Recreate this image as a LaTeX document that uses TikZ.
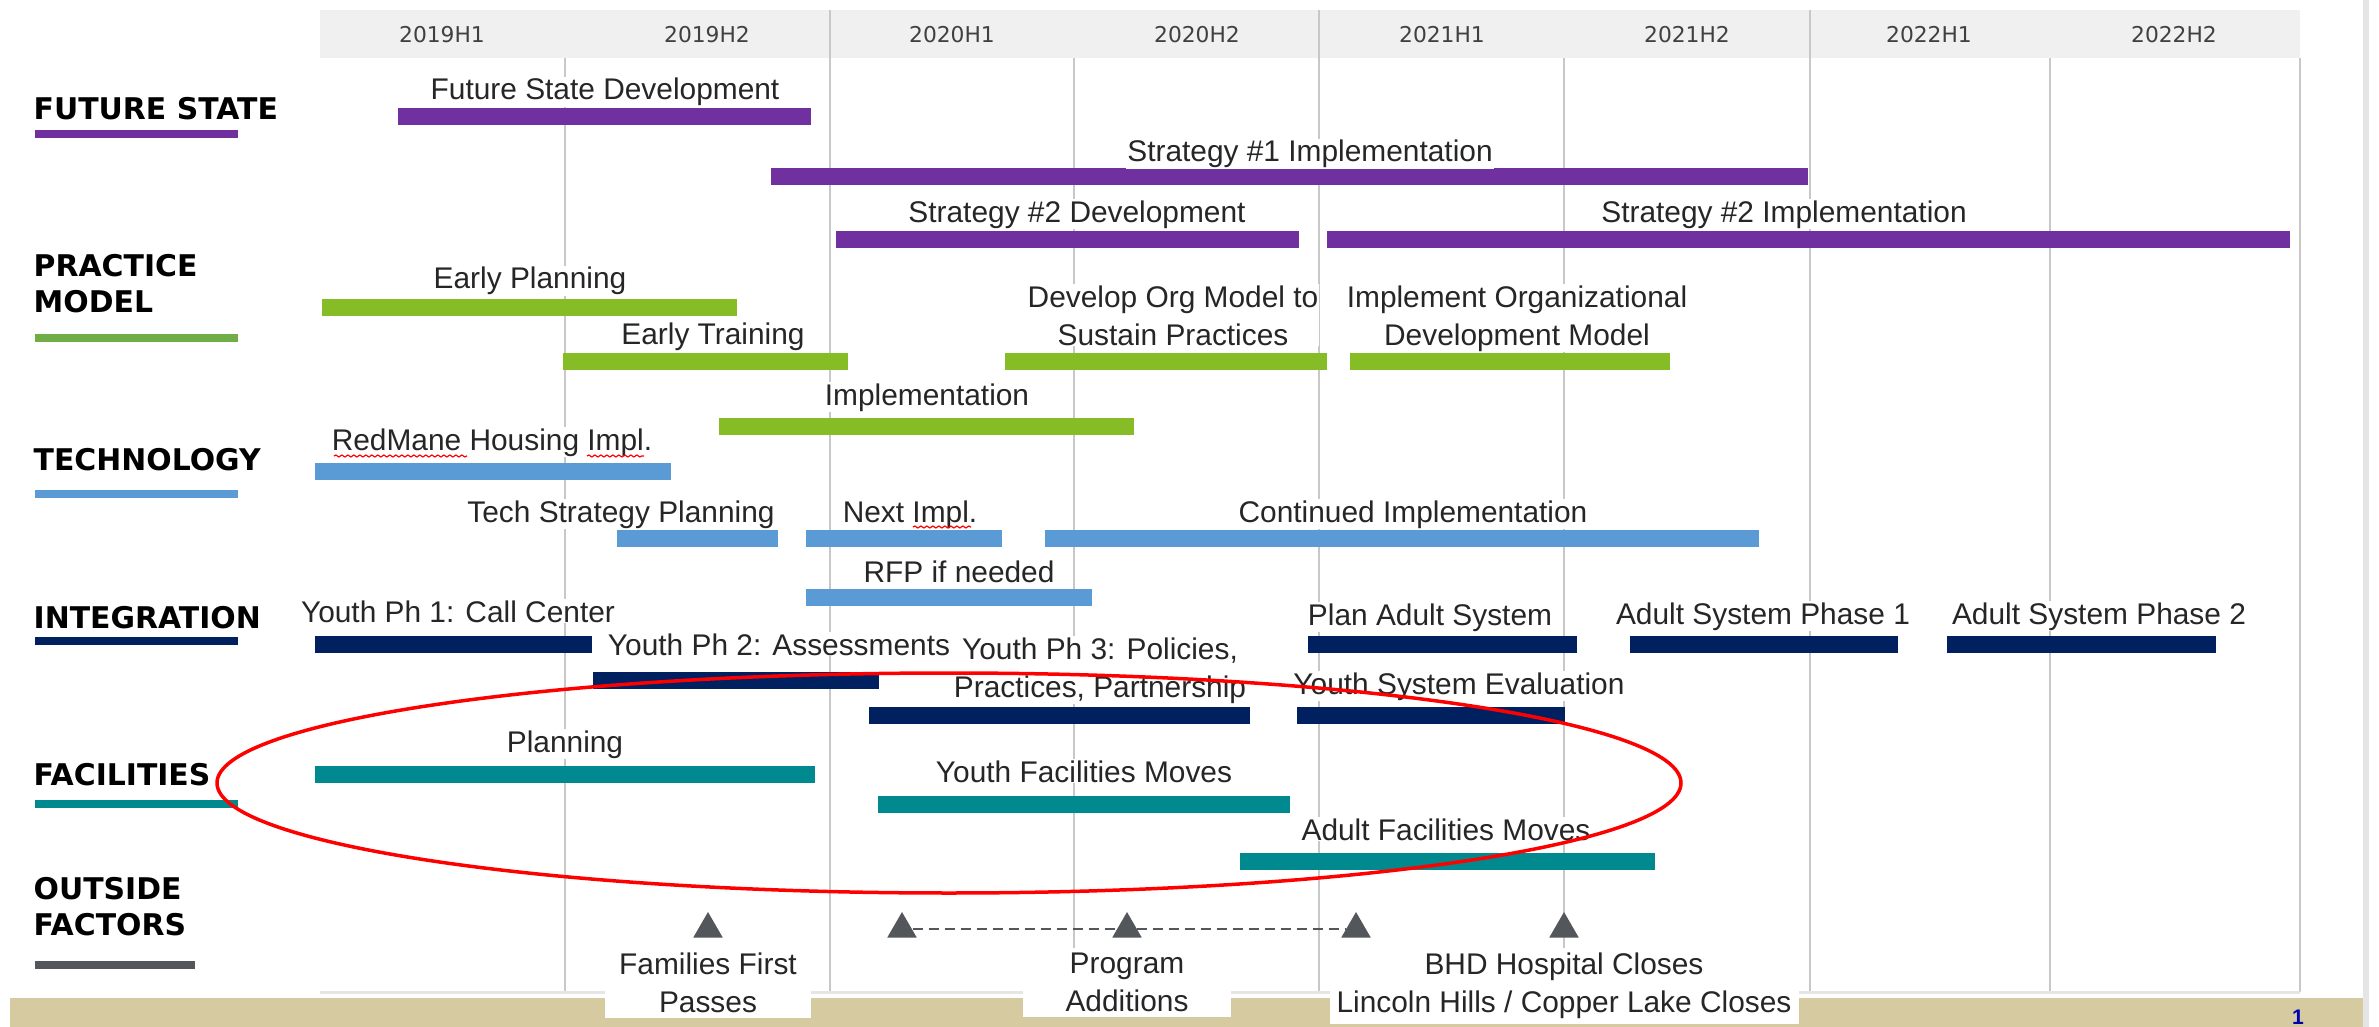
\documentclass[tikz,border=0pt]{standalone}
\usepackage{fontspec}
\setmainfont{Liberation Sans}
\newfontfamily\dvsans{DejaVu Sans}
\usetikzlibrary{shapes.geometric, positioning, decorations.pathmorphing}

\definecolor{fspurple}{RGB}{112,48,160}
\definecolor{pmgreen}{RGB}{134,188,37}
\definecolor{pmline}{RGB}{112,173,71}
\definecolor{techblue}{RGB}{91,155,213}
\definecolor{intnavy}{RGB}{0,32,96}
\definecolor{facteal}{RGB}{0,138,143}
\definecolor{outgray}{RGB}{83,86,90}
\definecolor{bandtan}{RGB}{214,203,160}
\definecolor{hdrgray}{RGB}{240,240,240}
\definecolor{gridgray}{RGB}{200,200,200}

% bar: colour, start, centre line, end
\newcommand{\taskbar}[4]{\fill[#1] (#2,#3-8.5) rectangle (#4,#3+8.5);}

\begin{document}
\begin{tikzpicture}[x=0.1mm, y=-0.1mm,
        every node/.style={inner sep=0pt},
        tasklbl/.style={font=\fontsize{8.5}{10.8}\selectfont, text=black!85, fill=white, inner sep=0.1mm, align=center, anchor=base},
        catlbl/.style={font=\dvsans\bfseries\fontsize{8.5}{10}\selectfont, align=left, anchor=base west},
        hdrlbl/.style={font=\dvsans\fontsize{6.2}{7}\selectfont, text=black!75, anchor=base},
        gridln/.style={draw=gridgray, line width=0.2mm},
        evt/.style={regular polygon, regular polygon sides=3, fill=outgray, minimum size=3.4mm},
        evtlbl/.style={font=\fontsize{8.5}{10.8}\selectfont, text=black!85, fill=white, align=center, inner xsep=0pt, inner ysep=0.5mm, below=0.9mm of #1},
        spell/.style={draw=red, line width=0.12mm, decorate, decoration={snake, amplitude=0.1mm, segment length=0.6mm}},
    ]
    \useasboundingbox (0,0) rectangle (2379,1027);
    \clip (0,0) rectangle (2379,1027);
    \fill[white] (0,0) rectangle (2379,1027);

    % slide frame
    \fill[bandtan] (10,998) rectangle (2363,1027);
    \fill[black!10] (2363,0) rectangle (2369,1027);

    % time axis
    \fill[hdrgray] (320,10) rectangle (2300,58);
    \node[hdrlbl] (h_19a) at (442,43) {2019H1};
    \node[hdrlbl] (h_19b) at (707,43) {2019H2};
    \node[hdrlbl] (h_20a) at (952,43) {2020H1};
    \node[hdrlbl] (h_20b) at (1197,43) {2020H2};
    \node[hdrlbl] (h_21a) at (1442,43) {2021H1};
    \node[hdrlbl] (h_21b) at (1687,43) {2021H2};
    \node[hdrlbl] (h_22a) at (1929,43) {2022H1};
    \node[hdrlbl] (h_22b) at (2174,43) {2022H2};

    \draw[gridln] (565,58) -- (565,992);
    \draw[gridln] (830,10) -- (830,992);
    \draw[gridln] (1074,58) -- (1074,992);
    \draw[gridln] (1319,10) -- (1319,992);
    \draw[gridln] (1564,58) -- (1564,992);
    \draw[gridln] (1810,10) -- (1810,992);
    \draw[gridln] (2050,58) -- (2050,992);
    \draw[gridln] (2300,58) -- (2300,992);
    \draw[black!10, line width=0.3mm] (320,992) -- (2300,992);

    % workstreams
    \node[catlbl] (cat_future) at (33,120) {FUTURE STATE};
    \node[catlbl] (cat_practice) at (33,312) {PRACTICE\\MODEL};
    \node[catlbl] (cat_tech) at (33,470) {TECHNOLOGY};
    \node[catlbl] (cat_integ) at (33,628) {INTEGRATION};
    \node[catlbl] (cat_facil) at (33,785) {FACILITIES};
    \node[catlbl] (cat_outside) at (33,935) {OUTSIDE\\FACTORS};

    \fill[fspurple] (35,130) rectangle (238,138);
    \fill[pmline] (35,334) rectangle (238,342);
    \fill[techblue] (35,490) rectangle (238,498);
    \fill[intnavy] (35,637) rectangle (238,645);
    \fill[facteal] (35,800) rectangle (238,808);
    \fill[outgray] (35,961) rectangle (195,969);

    % bars
    \taskbar{fspurple}{398}{117}{811}
    \taskbar{fspurple}{771}{177}{1808}
    \taskbar{fspurple}{836}{240}{1299}
    \taskbar{fspurple}{1327}{240}{2290}

    \taskbar{pmgreen}{322}{307}{737}
    \taskbar{pmgreen}{563}{361}{848}
    \taskbar{pmgreen}{1005}{361}{1327}
    \taskbar{pmgreen}{1350}{361}{1670}
    \taskbar{pmgreen}{719}{426}{1134}

    \taskbar{techblue}{315}{471}{671}
    \taskbar{techblue}{617}{538}{778}
    \taskbar{techblue}{806}{538}{1002}
    \taskbar{techblue}{1045}{538}{1759}
    \taskbar{techblue}{806}{597}{1092}

    \taskbar{intnavy}{315}{644}{592}
    \taskbar{intnavy}{593}{680}{879}
    \taskbar{intnavy}{869}{715}{1250}
    \taskbar{intnavy}{1308}{644}{1577}
    \taskbar{intnavy}{1297}{715}{1565}
    \taskbar{intnavy}{1630}{644}{1898}
    \taskbar{intnavy}{1947}{644}{2216}

    \taskbar{facteal}{315}{774}{815}
    \taskbar{facteal}{878}{804}{1290}
    \taskbar{facteal}{1240}{861}{1655}

    % bar labels
    \node[tasklbl] (lb_fsd) at (605,100) {Future State Development};
    \node[tasklbl] (lb_s1i) at (1310,162) {Strategy \#1 Implementation};
    \node[tasklbl] (lb_s2d) at (1077,222) {Strategy \#2 Development};
    \node[tasklbl] (lb_s2i) at (1784,222) {Strategy \#2 Implementation};
    \node[tasklbl] (lb_ep) at (530,289) {Early Planning};
    \node[tasklbl] (lb_et) at (713,344) {Early Training};
    \node[tasklbl] (lb_dom) at (1173,345) {Develop Org Model to\\Sustain Practices};
    \node[tasklbl] (lb_iod) at (1517,345) {Implement Organizational\\Development Model};
    \node[tasklbl] (lb_impl) at (927,405) {Implementation};
    \node[tasklbl] (lb_redmane) at (492,450) {RedMane Housing Impl.};
    \node[tasklbl] (lb_tsp) at (621,522) {Tech Strategy Planning};
    \node[tasklbl] (lb_next) at (910,522) {Next Impl.};
    \node[tasklbl] (lb_cont) at (1413,522) {Continued Implementation};
    \node[tasklbl] (lb_rfp) at (959,582) {RFP if needed};
    \node[tasklbl] (lb_yp1) at (458,622) {Youth Ph 1: Call Center};
    \node[tasklbl] (lb_yp2) at (779,655) {Youth Ph 2: Assessments};
    \node[tasklbl] (lb_yp3) at (1100,697) {Youth Ph 3: Policies,\\Practices, Partnership};
    \node[tasklbl] (lb_pas) at (1430,625) {Plan Adult System};
    \node[tasklbl] (lb_asp1) at (1763,624) {Adult System Phase 1};
    \node[tasklbl] (lb_asp2) at (2099,624) {Adult System Phase 2};
    \node[tasklbl] (lb_yse) at (1459,694) {Youth System Evaluation};
    \node[tasklbl] (lb_plan) at (565,752) {Planning};
    \node[tasklbl] (lb_yfm) at (1084,782) {Youth Facilities Moves};
    \node[tasklbl] (lb_afm) at (1446,840) {Adult Facilities Moves};

    \draw[spell] (334,456) -- (467,456);
    \draw[spell] (587,456) -- (644,456);
    \draw[spell] (913,527) -- (971,527);

    % outside factors
    \node[evt] (t_ff) at (708,929) {};
    \node[evt] (t_pa1) at (902,929) {};
    \node[evt] (t_pa2) at (1127,929) {};
    \node[evt] (t_pa3) at (1356,929) {};
    \node[evt] (t_bhd) at (1564,929) {};
    \draw[outgray, line width=0.18mm, dash pattern=on 1mm off 0.6mm] (t_pa1) -- (t_pa3);

    \node[evtlbl=t_ff, minimum width=20.6mm] (lb_ff) {Families First\\Passes};
    \node[evtlbl=t_pa2, minimum width=20.8mm] (lb_pa) {Program\\Additions};
    \node[evtlbl=t_bhd, minimum width=46.9mm] (lb_bhd) {BHD Hospital Closes\\Lincoln Hills / Copper Lake Closes};

    \draw[red, line width=0.35mm] (949,783) ellipse [x radius=73.2mm, y radius=11mm];

    \node[text=blue!70!black, font=\fontsize{6}{7}\selectfont\bfseries, anchor=base] (pg_num) at (2298,1024) {1};
\end{tikzpicture}
\end{document}
